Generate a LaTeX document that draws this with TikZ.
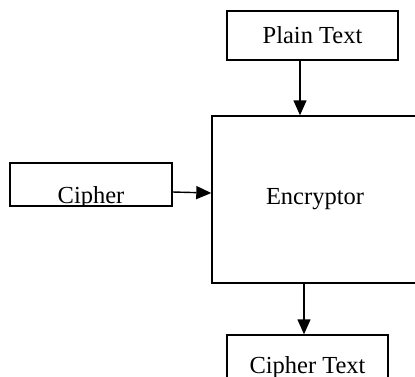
\documentclass[tikz,border=0pt]{standalone}
\usepackage{fontspec}
\setmainfont{Liberation Serif}
\usetikzlibrary{arrows.meta}

\begin{document}
\begin{tikzpicture}[
    x=1pt, y=-1pt,
    box/.style={rectangle, draw, line width=1.4pt, inner sep=0pt,
                font=\fontsize{24.5}{28}\selectfont},
    arr/.style={-{Triangle[length=15pt, width=13pt]}, line width=1.4pt}
]
\useasboundingbox (0,0) rectangle (415,376);
\clip (0,0) rectangle (415,376);

% Boxes
\node[box, minimum width=171pt, minimum height=49pt] (plain) at (312.5,35.5) {Plain Text};
\node[box, minimum width=206pt, minimum height=167pt] (enc) at (315,199.5) {Encryptor};
\node[box, minimum width=162pt, minimum height=43pt] (cipher) at (91,184.5) {};
\node[box, minimum width=161pt, minimum height=66pt] (ctext) at (307.5,368) {Cipher Text};

% Cipher label, cut by its box
\begin{scope}
    \clip (cipher.south west) rectangle (cipher.north east);
    \node[anchor=base, inner sep=0pt, font=\fontsize{24.5}{28}\selectfont]
        (ciphertxt) at ([yshift=3.5pt]cipher.south) {Cipher};
\end{scope}

% Arrows
\draw[arr] ([xshift=-12.5pt]plain.south) -- ([xshift=-12.5pt]plain.south |- enc.north);
\draw[arr] ([yshift=-7.5pt]cipher.east) -- ([yshift=6.5pt]enc.west);
\draw[arr] ([xshift=-11pt]enc.south) -- ([xshift=-11pt]enc.south |- ctext.north);
\end{tikzpicture}
\end{document}
